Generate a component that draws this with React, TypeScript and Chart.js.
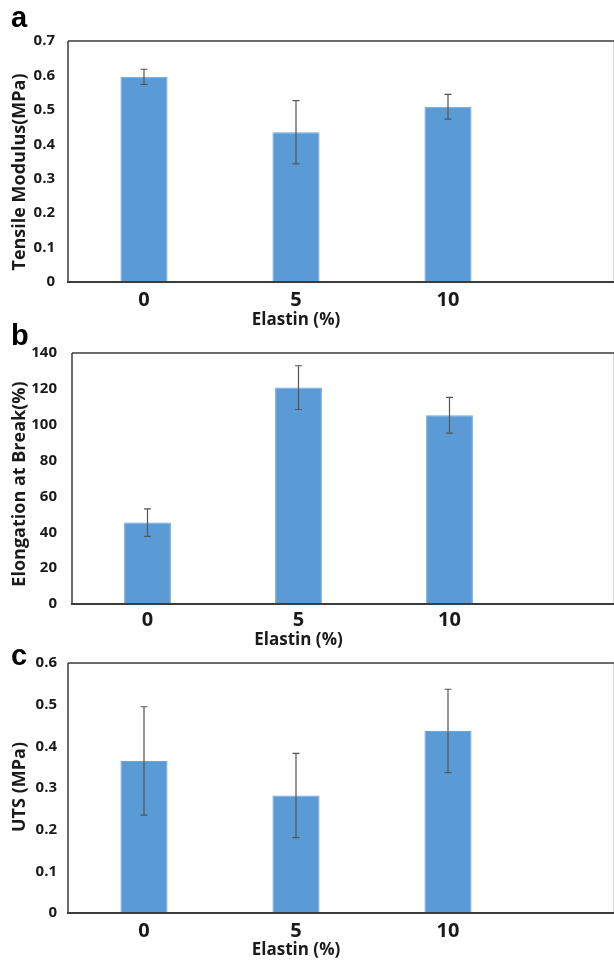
import React, { useEffect, useRef } from "react";
import { Chart, registerables } from "chart.js";

Chart.register(...registerables);

const categories = ["0", "5", "10"];
const xAxisTitle = "Elastin (%)";

const modulusValues = [0.596, 0.435, 0.509];
const modulusErrors = [0.022, 0.092, 0.036];
const modulusTicks = { min: 0, max: 0.7, step: 0.1 };

const elongationValues = [45.4, 120.7, 105.3];
const elongationErrors = [7.7, 12.2, 10.0];
const elongationTicks = { min: 0, max: 140, step: 20 };

const utsValues = [0.365, 0.282, 0.437];
const utsErrors = [0.13, 0.101, 0.1];
const utsTicks = { min: 0, max: 0.6, step: 0.1 };

const FONT = "'Open Sans', 'DejaVu Sans', sans-serif";
const BAR = "#5B9BD5";
const TEXT = "#1a1a1a";

type Panel = {
  letter: string;
  letterBaseline: number;
  yTitle: string;
  yTitleCenter: number;
  values: number[];
  errors: number[];
  ticks: { min: number; max: number; step: number };
  decimals: boolean;
  canvasTop: number;
  canvasHeight: number;
  area: { left: number; top: number; bottom: number; right: number };
  yTickPad: number;
  xTickPad: number;
};

const panels: Panel[] = [
  {
    letter: "a",
    letterBaseline: 27,
    yTitle: "Tensile Modulus(MPa)",
    yTitleCenter: 172,
    values: modulusValues,
    errors: modulusErrors,
    ticks: modulusTicks,
    decimals: true,
    canvasTop: 0,
    canvasHeight: 330,
    area: { left: 68, top: 41, bottom: 282, right: 524 },
    yTickPad: 13,
    xTickPad: 6,
  },
  {
    letter: "b",
    letterBaseline: 345,
    yTitle: "Elongation at Break(%)",
    yTitleCenter: 484,
    values: elongationValues,
    errors: elongationErrors,
    ticks: elongationTicks,
    decimals: false,
    canvasTop: 300,
    canvasHeight: 350,
    area: { left: 72, top: 353, bottom: 604, right: 525 },
    yTickPad: 15,
    xTickPad: 4,
  },
  {
    letter: "c",
    letterBaseline: 665,
    yTitle: "UTS (MPa)",
    yTitleCenter: 787,
    values: utsValues,
    errors: utsErrors,
    ticks: utsTicks,
    decimals: true,
    canvasTop: 620,
    canvasHeight: 340,
    area: { left: 68, top: 663, bottom: 913, right: 524 },
    yTickPad: 11,
    xTickPad: 6,
  },
];

const W = 614;

function makeDecor(p: Panel) {
  return {
    id: "decor_" + p.letter,
    afterDatasetsDraw(chart: any) {
      const ctx = chart.ctx;
      const { left, top, bottom } = chart.chartArea;
      const xs = chart.scales.x;
      const ys = chart.scales.y;
      ctx.save();
      ctx.strokeStyle = "#555555";
      ctx.lineWidth = 1.2;
      p.values.forEach((v, i) => {
        const x = xs.getPixelForValue(i);
        const yHi = ys.getPixelForValue(v + p.errors[i]);
        const yLo = ys.getPixelForValue(v - p.errors[i]);
        ctx.beginPath();
        ctx.moveTo(x, yHi);
        ctx.lineTo(x, yLo);
        ctx.moveTo(x - 3.5, yHi);
        ctx.lineTo(x + 3.5, yHi);
        ctx.moveTo(x - 3.5, yLo);
        ctx.lineTo(x + 3.5, yLo);
        ctx.stroke();
      });
      ctx.strokeStyle = "#d8d8d8";
      ctx.lineWidth = 1;
      ctx.beginPath();
      ctx.moveTo(W - 0.5, top);
      ctx.lineTo(W - 0.5, bottom);
      ctx.stroke();
      ctx.strokeStyle = "#3c3c3c";
      ctx.lineWidth = 1.5;
      ctx.beginPath();
      ctx.moveTo(left, top);
      ctx.lineTo(W, top);
      ctx.moveTo(left, top);
      ctx.lineTo(left, bottom);
      ctx.stroke();
      ctx.lineWidth = 2;
      ctx.beginPath();
      ctx.moveTo(left - 1, bottom);
      ctx.lineTo(W, bottom);
      ctx.stroke();
      ctx.restore();
    },
    afterDraw(chart: any) {
      const ctx = chart.ctx;
      ctx.save();
      ctx.fillStyle = "#000";
      ctx.font = "bold 29px 'Liberation Sans', Arial, sans-serif";
      ctx.textAlign = "left";
      ctx.textBaseline = "alphabetic";
      ctx.fillText(p.letter, 11, p.letterBaseline - p.canvasTop);
      ctx.fillStyle = TEXT;
      ctx.font = "bold 18px " + FONT;
      ctx.translate(20, p.yTitleCenter - p.canvasTop);
      ctx.rotate(-Math.PI / 2);
      ctx.textAlign = "center";
      ctx.textBaseline = "middle";
      ctx.fillText(p.yTitle, 0, 0);
      ctx.restore();
    },
  };
}

function PanelChart({ p }: { p: Panel }) {
  const ref = useRef<HTMLCanvasElement | null>(null);
  useEffect(() => {
    if (!ref.current) return;
    const a = p.area;
    const chart = new Chart(ref.current, {
      type: "bar",
      data: {
        labels: categories,
        datasets: [
          {
            data: p.values,
            backgroundColor: BAR,
            borderColor: "#6aa6dc",
            borderWidth: 1,
            barPercentage: 0.31,
            categoryPercentage: 1,
          },
        ],
      },
      plugins: [makeDecor(p)],
      options: {
        animation: false,
        responsive: false,
        maintainAspectRatio: false,
        events: [],
        layout: {
          padding: {
            left: 0,
            top: a.top - p.canvasTop,
            right: W - a.right,
            bottom: 0,
          },
        },
        plugins: {
          legend: { display: false },
          tooltip: { enabled: false },
          title: { display: false },
        },
        scales: {
          x: {
            type: "category",
            offset: true,
            grid: { display: false, drawTicks: false },
            border: { display: false },
            ticks: {
              color: TEXT,
              padding: p.xTickPad,
              font: { family: FONT, size: 20, weight: "bold" },
              maxRotation: 0,
            },
            title: {
              display: true,
              text: xAxisTitle,
              color: TEXT,
              padding: { top: 0, bottom: 0 },
              font: { family: FONT, size: 17, weight: "bold" },
            },
            afterFit(scale: any) {
              scale.height = p.canvasTop + p.canvasHeight - a.bottom;
            },
          },
          y: {
            min: p.ticks.min,
            max: p.ticks.max,
            grid: { display: false, drawTicks: false },
            border: { display: false },
            ticks: {
              stepSize: p.ticks.step,
              color: TEXT,
              padding: p.yTickPad,
              font: { family: FONT, size: 15, weight: "bold" },
              callback: (v: any) =>
                p.decimals ? String(Math.round(Number(v) * 10) / 10) : String(Math.round(Number(v))),
            },
            afterFit(scale: any) {
              scale.width = a.left;
            },
          },
        },
      } as any,
    });
    return () => chart.destroy();
  }, [p]);
  return (
    <canvas
      ref={ref}
      width={W}
      height={p.canvasHeight}
      style={{
        position: "absolute",
        left: 0,
        top: p.canvasTop,
        width: W,
        height: p.canvasHeight,
      }}
    />
  );
}

export default function App() {
  return (
    <div
      style={{
        position: "absolute",
        left: 0,
        top: 0,
        width: W,
        height: 961,
        background: "#fff",
        overflow: "hidden",
      }}
    >
      {panels.map((p) => (
        <PanelChart key={p.letter} p={p} />
      ))}
    </div>
  );
}
